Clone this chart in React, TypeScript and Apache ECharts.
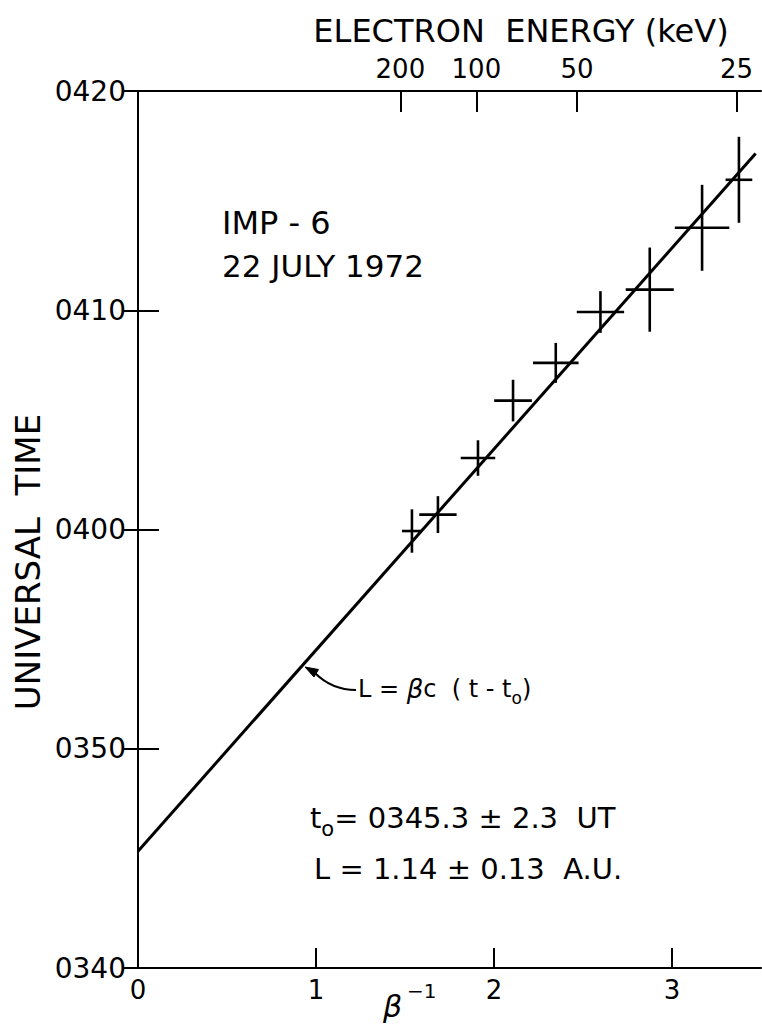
import React, { useEffect, useRef } from "react";
import * as echarts from "echarts";

// β^-1 (x) and universal time in minutes after 0000 UT (y)
const invBeta = [1.539, 1.685, 1.91, 2.107, 2.347, 2.598, 2.875, 3.169, 3.376];
const utMinutes = [239.93, 240.68, 243.26, 245.88, 247.6, 249.92, 250.94, 253.76, 255.95];
const invBetaErr = [0.056, 0.105, 0.097, 0.106, 0.128, 0.133, 0.135, 0.153, 0.075];
const utErr = [0.99, 0.84, 0.81, 0.95, 0.91, 0.95, 1.92, 1.96, 1.96];

// fitted line L = βc (t - t0)
const fitX = [0, 3.47];
const fitY = [225.33, 257.15];

// axis ticks
const yTicks = [220, 230, 240, 250, 260];
const yTickLabels = ["0340", "0350", "0400", "0410", "0420"];
const xTicks = [0, 1, 2, 3];
const xTickLabels = ["0", "1", "2", "3"];
const energyTickPos = [1.474, 1.901, 2.466, 3.362];
const energyTickLabels = ["200", "100", "50", "25"];

const FONT = "DejaVu Sans";

function measure(text: string, font: string): number {
  const c = document.createElement("canvas").getContext("2d");
  if (!c) return text.length * 10;
  c.font = font;
  return c.measureText(text).width;
}

// texts placed left-to-right: pieces [text, font, dy]
function row(x0: number, bottom: number, pieces: [string, string, number][]) {
  const out: any[] = [];
  let x = x0;
  for (const [t, f, dy] of pieces) {
    out.push({
      type: "text",
      x,
      y: bottom + dy,
      style: { text: t, font: f, fill: "#000", align: "left", verticalAlign: "bottom" },
    });
    x += measure(t, f);
  }
  return out;
}

export default function App() {
  const ref = useRef<HTMLDivElement>(null);

  useEffect(() => {
    document.body.style.margin = "0";
    const chart = echarts.init(ref.current!, null, { renderer: "svg" });

    const errData = invBeta.map((x, i) => [x, utMinutes[i], invBetaErr[i], utErr[i]]);
    const fitData = fitX.map((x, i) => [x, fitY[i]]);

    const lookup = (vals: number[], labels: string[]) => (v: number) => {
      const i = vals.findIndex((t) => Math.abs(t - v) < 1e-6);
      return i >= 0 ? labels[i] : "";
    };

    const axisLine = { show: true, lineStyle: { color: "#000", width: 2 } };

    const f24 = `24px "${FONT}"`;
    const f24i = `italic 26px "${FONT}"`;
    const f17 = `17px "${FONT}"`;
    const f29 = `29px "${FONT}"`;
    const f21 = `21px "${FONT}"`;

    const formula = row(358, 701, [
      ["L = ", f24, 0],
      ["β", f24i, 1],
      ["c  ( t - t", f24, 0],
      ["o", f17, 5],
      [")", f24, 0],
    ]);
    const t0Line = row(310, 832, [
      ["t", f29, 0],
      ["o", f21, 7],
      ["= 0345.3 ± 2.3  UT", f29, 0],
    ]);

    chart.setOption({
      animation: false,
      backgroundColor: "#fff",
      grid: { left: 138, top: 91, right: 1, bottom: 56, containLabel: false },
      xAxis: [
        {
          type: "value",
          position: "bottom",
          min: 0,
          max: 3.5,
          interval: 1,
          axisLine,
          axisTick: { inside: true, length: 20, lineStyle: { color: "#000", width: 2 } },
          axisLabel: {
            color: "#000",
            fontFamily: FONT,
            fontSize: 26,
            margin: 9,
            showMaxLabel: false,
            formatter: lookup(xTicks, xTickLabels),
          },
          splitLine: { show: false },
        },
        {
          type: "value",
          position: "top",
          min: 0,
          max: 3.5,
          axisLine,
          axisTick: {
            inside: true,
            length: 21,
            customValues: energyTickPos,
            lineStyle: { color: "#000", width: 2 },
          },
          axisLabel: {
            color: "#000",
            fontFamily: FONT,
            fontSize: 26,
            margin: 9,
            customValues: energyTickPos,
            formatter: lookup(energyTickPos, energyTickLabels),
          },
          splitLine: { show: false },
        },
      ],
      yAxis: [
        {
          type: "value",
          position: "left",
          min: 220,
          max: 260,
          interval: 10,
          axisLine,
          axisTick: { inside: true, length: 21, lineStyle: { color: "#000", width: 2 } },
          axisLabel: {
            color: "#000",
            fontFamily: FONT,
            fontSize: 28,
            margin: 12,
            formatter: lookup(yTicks, yTickLabels),
          },
          splitLine: { show: false },
        },
        {
          type: "value",
          position: "right",
          min: 220,
          max: 260,
          interval: 10,
          axisLine,
          axisTick: { inside: true, length: 14, lineStyle: { color: "#000", width: 2 } },
          axisLabel: { show: false },
          splitLine: { show: false },
        },
      ],
      series: [
        {
          type: "line",
          data: fitData,
          xAxisIndex: 0,
          yAxisIndex: 0,
          symbol: "none",
          lineStyle: { color: "#000", width: 3 },
        },
        {
          type: "custom",
          xAxisIndex: 0,
          yAxisIndex: 0,
          data: errData,
          encode: { x: 0, y: 1 },
          renderItem: (_params: any, api: any) => {
            const x = api.value(0);
            const y = api.value(1);
            const dx = api.value(2);
            const dy = api.value(3);
            const a = api.coord([x - dx, y]);
            const b = api.coord([x + dx, y]);
            const c = api.coord([x, y - dy]);
            const d = api.coord([x, y + dy]);
            const style = { stroke: "#000", lineWidth: 2.6 };
            return {
              type: "group",
              children: [
                { type: "line", shape: { x1: a[0], y1: a[1], x2: b[0], y2: b[1] }, style },
                { type: "line", shape: { x1: c[0], y1: c[1], x2: d[0], y2: d[1] }, style },
              ],
            };
          },
        },
      ],
      graphic: [
        {
          type: "text",
          x: 521,
          y: 47,
          style: {
            text: "ELECTRON  ENERGY (keV)",
            font: `32px "${FONT}"`,
            fill: "#000",
            align: "center",
            verticalAlign: "bottom",
          },
        },
        {
          type: "text",
          x: 28,
          y: 562,
          rotation: Math.PI / 2,
          style: {
            text: "UNIVERSAL  TIME",
            font: `34px "${FONT}"`,
            fill: "#000",
            align: "center",
            verticalAlign: "middle",
          },
        },
        {
          type: "text",
          x: 222,
          y: 239,
          style: {
            text: "IMP - 6",
            font: `32px "${FONT}"`,
            fill: "#000",
            align: "left",
            verticalAlign: "bottom",
          },
        },
        {
          type: "text",
          x: 222,
          y: 281,
          style: {
            text: "22 JULY 1972",
            font: `31px "${FONT}"`,
            fill: "#000",
            align: "left",
            verticalAlign: "bottom",
          },
        },
        ...formula,
        {
          type: "bezierCurve",
          shape: { x1: 356, y1: 690, cpx1: 332, cpy1: 690, x2: 315, y2: 673 },
          style: { stroke: "#000", lineWidth: 2, fill: "none" },
        },
        {
          type: "polygon",
          shape: { points: [[305, 667], [318.5, 669.5], [314, 677]] },
          style: { fill: "#000", stroke: "#000", lineWidth: 1 },
        },
        ...t0Line,
        {
          type: "text",
          x: 314,
          y: 883,
          style: {
            text: "L = 1.14 ± 0.13  A.U.",
            font: f29,
            fill: "#000",
            align: "left",
            verticalAlign: "bottom",
          },
        },
        {
          type: "text",
          x: 383,
          y: 1021,
          style: {
            text: "β",
            font: `italic 30px "${FONT}"`,
            fill: "#000",
            align: "left",
            verticalAlign: "bottom",
          },
        },
        {
          type: "text",
          x: 407,
          y: 1001,
          style: {
            text: "−1",
            font: `20px "${FONT}"`,
            fill: "#000",
            align: "left",
            verticalAlign: "bottom",
          },
        },
      ],
    });

    return () => chart.dispose();
  }, []);

  return (
    <div
      ref={ref}
      style={{ position: "fixed", left: 0, top: 0, width: 762, height: 1024, overflow: "hidden" }}
    />
  );
}
